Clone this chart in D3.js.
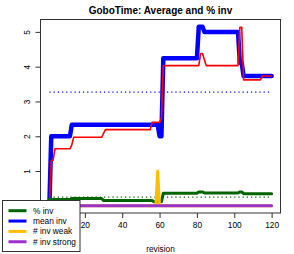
<!DOCTYPE html>
<html><head><meta charset="utf-8">
<script src="https://cdn.jsdelivr.net/npm/d3@7"></script>
<style>body{margin:0;background:#fff}svg{display:block;font-family:"Liberation Sans",Arial,Helvetica,sans-serif}</style>
</head><body>
<script>
const revisions = [1,2,3,4,5,6,7,8,9,10,11,12,13,14,15,16,17,18,19,20,21,22,23,24,25,26,27,28,29,30,
31,32,33,34,35,36,37,38,39,40,41,42,43,44,45,46,47,48,49,50,51,52,53,54,55,56,57,58,59,60,
61,62,63,64,65,66,67,68,69,70,71,72,73,74,75,76,77,78,79,80,81,82,83,84,85,86,87,88,89,90,
91,92,93,94,95,96,97,98,99,100,101,102,103,104,105,106,107,108,109,110,111,112,113,114,115,116,117,118,119,120];

const meanInv = [0,
2,2,2,2,2,2,2,2,2,2,2,
2.33,2.33,2.33,2.33,2.33,2.33,2.33,2.33,2.33,2.33,2.33,2.33,2.33,2.33,2.33,2.33,2.33,2.33,2.33,2.33,2.33,2.33,2.33,2.33,2.33,2.33,2.33,2.33,2.33,2.33,2.33,2.33,2.33,2.33,2.33,2.33,2.33,2.33,2.33,2.33,2.33,2.33,2.33,2.33,2.33,2.33,2.33,
2,2,
4.24,4.24,4.24,4.24,4.24,4.24,4.24,4.24,4.24,4.24,4.24,4.24,4.24,4.24,4.24,4.24,4.24,4.24,4.24,
5.15,5.15,5.15,
5,5,5,5,5,5,5,5,5,5,5,5,5,5,5,5,5,5,5,
4.11,4.11,
3.73,3.73,3.73,3.73,3.73,3.73,3.73,3.73,3.73,3.73,3.73,3.73,3.73,3.73,3.73,3.73];

const average = [0,
1.31,1.31,
1.64,1.64,1.64,1.64,1.64,1.64,1.64,1.64,1.64,
1.75,
1.97,1.97,1.97,1.97,1.97,1.97,1.97,1.97,1.97,1.97,1.97,1.97,1.97,1.97,1.97,1.97,
2.08,
2.19,2.19,2.19,2.19,2.19,2.19,2.19,2.19,2.19,2.19,2.19,2.19,2.19,2.19,2.19,2.19,2.19,2.19,2.19,2.19,2.19,2.19,2.19,2.19,2.19,
2.40,2.40,2.40,2.40,2.40,
2.51,
4.03,4.03,4.03,4.03,4.03,4.03,4.03,4.03,4.03,4.03,4.03,4.03,4.03,4.03,4.03,4.03,4.03,4.03,4.03,4.03,
4.38,4.38,
4.2,
4.03,4.03,4.03,4.03,4.03,4.03,4.03,4.03,4.03,4.03,4.03,4.03,4.03,4.03,4.03,4.03,4.03,4.03,
5.13,5.13,
3.62,3.62,3.62,3.62,3.62,3.62,3.62,3.62,3.62,3.62,
3.73,3.73,3.73,3.73,3.73,3.73];

const pctInv = [0.18,0.18,0.18,0.18,0.18,0.18,0.18,0.18,0.18,0.18,0.18,0.18,
0.21,0.21,0.21,0.21,0.21,0.21,0.21,0.21,0.21,0.21,0.21,0.21,0.21,0.21,0.21,0.21,0.21,
0.15,0.15,0.15,0.15,0.15,0.15,0.15,0.15,0.15,0.15,0.15,0.15,0.15,0.15,0.15,0.15,0.15,0.15,0.15,0.15,0.15,0.15,0.15,0.15,0.15,0.15,0.15,
0.12,0.12,0.12,0.12,0.12,
0.36,0.36,0.36,0.36,0.36,0.36,0.36,0.36,0.36,0.36,0.36,0.36,0.36,0.36,0.36,0.36,0.36,0.36,0.36,
0.40,0.40,0.40,
0.37,0.37,0.37,0.37,0.37,0.37,0.37,0.37,0.37,0.37,0.37,0.37,0.37,0.37,0.37,0.37,0.37,0.37,0.37,
0.40,0.40,
0.35,0.35,0.35,0.35,0.35,0.35,0.35,0.35,0.35,0.35,0.35,0.35,0.35,0.35,0.35,0.35];

const invWeak = [0,0,0,0,0,0,0,0,0,0,0,0,0,0,0,0,0,0,0,0,0,0,0,0,0,0,0,0,0,0,
0,0,0,0,0,0,0,0,0,0,0,0,0,0,0,0,0,0,0,0,0,0,0,0,0,0,0,0,1,0,
0,0,0,0,0,0,0,0,0,0,0,0,0,0,0,0,0,0,0,0,0,0,0,0,0,0,0,0,0,0,
0,0,0,0,0,0,0,0,0,0,0,0,0,0,0,0,0,0,0,0,0,0,0,0,0,0,0,0,0,0];

const invStrong = [0,0,0,0,0,0,0,0,0,0,0,0,0,0,0,0,0,0,0,0,0,0,0,0,0,0,0,0,0,0,
0,0,0,0,0,0,0,0,0,0,0,0,0,0,0,0,0,0,0,0,0,0,0,0,0,0,0,0,0,0,
0,0,0,0,0,0,0,0,0,0,0,0,0,0,0,0,0,0,0,0,0,0,0,0,0,0,0,0,0,0,
0,0,0,0,0,0,0,0,0,0,0,0,0,0,0,0,0,0,0,0,0,0,0,0,0,0,0,0,0,0];

const meanInvLevel = 3.27;
const pctInvLevel = 0.25;

// tick "0" on both axes is hidden under the legend in the reference
const xTicks = [20,40,60,80,100,120];
const yTicks = [1,2,3,4,5];
const legendLabels = ["% inv","mean inv","# inv weak","# inv strong"];
const legendColors = ["#006400","#0000FF","#FFBF00","#9A32CD"];

const W=294,H=254;
const L=40.5,R=280.5,T=19.5,B=213;
const svg=d3.select("body").append("svg").attr("width",W).attr("height",H);

function ext(lo,hi){const d=(hi-lo)*0.04;return [lo-d,hi+d];}
const x=d3.scaleLinear().domain(ext(d3.min(revisions),d3.max(revisions))).range([L,R]);
const allY=meanInv.concat(average,pctInv,invWeak,invStrong);
const y=d3.scaleLinear().domain(ext(d3.min(allY),d3.max(allY))).range([B,T]);

const line=vals=>d3.line().x((d,i)=>x(revisions[i])).y(d=>y(d))(vals);
const g=svg.append("g");
function drawLine(vals,color,w){
  g.append("path").attr("d",line(vals)).attr("fill","none").attr("stroke",color)
   .attr("stroke-width",w).attr("stroke-linejoin","round").attr("stroke-linecap","round");
}
function hDotted(v,color){
  g.append("line").attr("x1",x(revisions[0])).attr("x2",x(revisions[revisions.length-1]))
   .attr("y1",y(v)).attr("y2",y(v)).attr("stroke",color).attr("stroke-width",1.2)
   .attr("stroke-dasharray","1.2,3");
}
drawLine(meanInv,"#0000FF",4.5);
drawLine(average,"#FF0000",1.6);
hDotted(meanInvLevel,"#0000FF");
hDotted(pctInvLevel,"#006400");
drawLine(pctInv,"#006400",3);
drawLine(invWeak,"#FFBF00",3);
drawLine(invStrong,"#9A32CD",3);

// box
svg.append("rect").attr("x",L).attr("y",T).attr("width",R-L).attr("height",B-T)
  .attr("fill","none").attr("stroke","#333").attr("stroke-width",1);

// x axis
const xa=svg.append("g").attr("transform",`translate(0,${B})`)
  .call(d3.axisBottom(x).tickValues(xTicks).tickFormat(d3.format("d")).tickSize(5).tickSizeOuter(0).tickPadding(4));
xa.select(".domain").remove();
xa.selectAll(".tick line").attr("stroke","#333");
xa.selectAll("text").attr("font-size",8.3).attr("fill","#000").attr("font-family",null);

// y axis
const ya=svg.append("g").attr("transform",`translate(${L},0)`)
  .call(d3.axisLeft(y).tickValues(yTicks).tickFormat(d3.format("d")).tickSize(5).tickSizeOuter(0));
ya.select(".domain").remove();
ya.selectAll(".tick line").attr("stroke","#333");
ya.selectAll("text").attr("font-size",8.3).attr("fill","#000").attr("font-family",null)
  .attr("text-anchor","middle").attr("x",0).attr("dy",0)
  .attr("transform","translate(-11,0) rotate(-90)");

// title & x label
svg.append("text").attr("x",(L+R)/2).attr("y",13.5).attr("text-anchor","middle")
  .attr("font-size",10).attr("font-weight","bold").text("GoboTime: Average and % inv");
svg.append("text").attr("x",(L+R)/2).attr("y",251.5).attr("text-anchor","middle")
  .attr("font-size",8.3).text("revision");

// legend
const lg=svg.append("g");
lg.append("rect").attr("x",2.5).attr("y",200.5).attr("width",77.5).attr("height",51)
  .attr("fill","#fff").attr("stroke","#333").attr("stroke-width",1);
legendLabels.forEach((lab,i)=>{
  const cy=210.7+i*10.35;
  lg.append("line").attr("x1",8.5).attr("x2",26.5).attr("y1",cy).attr("y2",cy)
    .attr("stroke",legendColors[i]).attr("stroke-width",3);
  lg.append("text").attr("x",33).attr("y",cy+3).attr("font-size",8.3).text(lab);
});
</script>
</body></html>
